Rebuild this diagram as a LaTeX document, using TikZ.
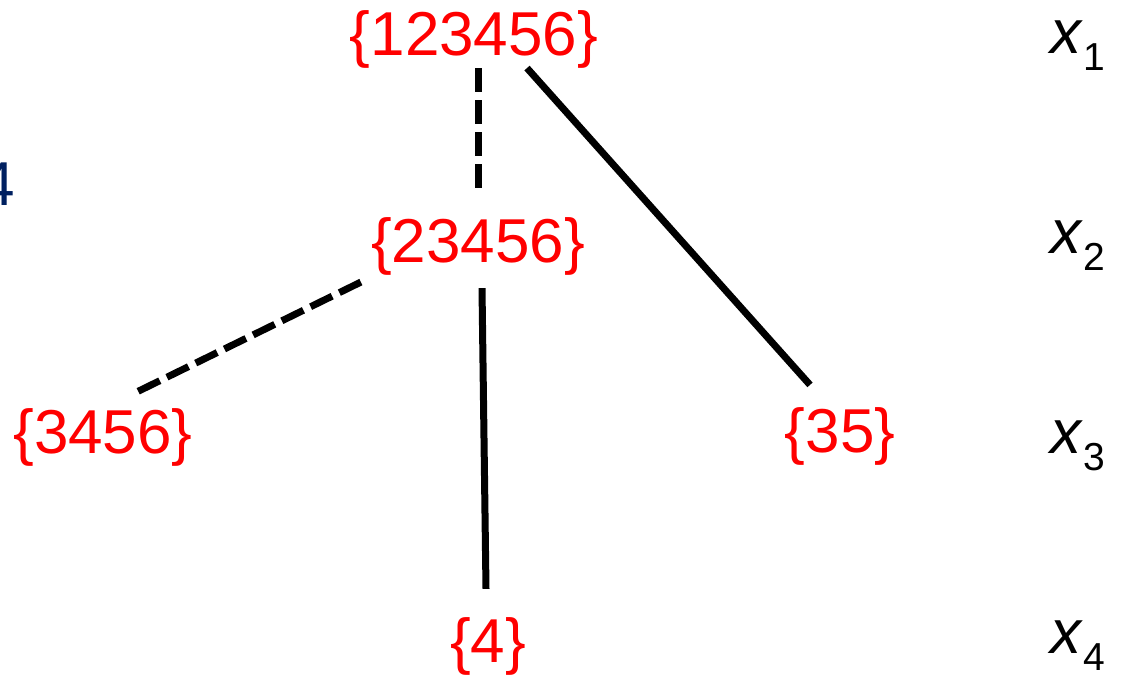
\documentclass[tikz,border=0pt]{standalone}
\usepackage{fontspec}
\setmainfont{Liberation Sans}
\usepackage{tikz}
\usetikzlibrary{positioning,calc}
\definecolor{setred}{RGB}{255,0,0}
\definecolor{navy}{RGB}{0,32,96}

\begin{document}
\begin{tikzpicture}[x=1pt,y=-1pt,
  every node/.style={inner sep=0pt,anchor=base,font=\fontsize{62}{70}\selectfont},
  setnode/.style={text=setred},
  varlabel/.style={anchor=base west,text=black},
  solidedge/.style={line width=7pt,black},
  dashedge/.style={line width=7pt,black,dash pattern=on 24pt off 8pt}]
  \useasboundingbox (0,0) rectangle (1122,681);
  \clip (0,0) rectangle (1122,681);

  % cut off digit at the left edge
  \node[anchor=base west,text=navy] (side4) at (-20,205) {4};

  % tree of sets
  \node[setnode] (n123456) at (474,55) {\{123456\}};
  \node[setnode] (n23456) at (478,262) {\{23456\}};
  \node[setnode] (n3456) at (103,453) {\{3456\}};
  \node[setnode] (n35) at (840,452) {\{35\}};
  \node[setnode] (n4) at (488,662) {\{4\}};

  % variable per level
  \foreach \i/\y in {1/53,2/253,3/453,4/653}{
    \node[varlabel] (lbl\i) at (1050,\y)
      {\textit{x}\raisebox{-17pt}{\fontsize{39}{40}\selectfont\i}};
  }

  \draw[dashedge] (n123456.south -| n23456) -- ([yshift=29pt]n23456.north);
  \draw[solidedge] ([xshift=53pt]n123456.south) -- ([xshift=-30pt,yshift=22pt]n35.north);
  \draw[dashedge] ([xshift=-10pt,yshift=-7pt]n23456.south west) -- ([xshift=34pt,yshift=16pt]n3456.north);
  \draw[solidedge] ([xshift=4pt,yshift=-13pt]n23456.south) -- ([xshift=-2pt,yshift=28pt]n4.north);
\end{tikzpicture}
\end{document}
